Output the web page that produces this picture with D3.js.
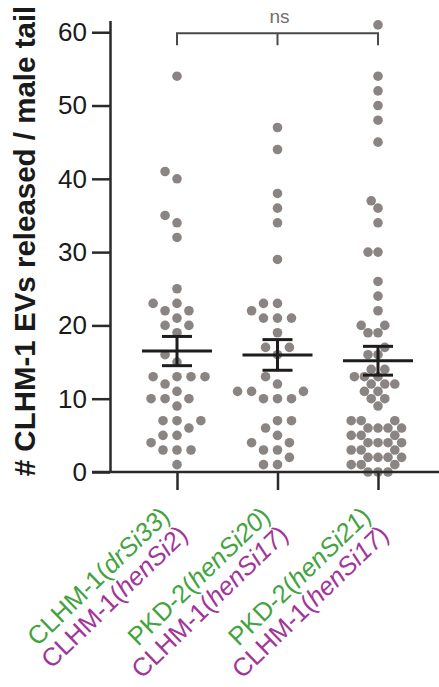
<!DOCTYPE html>
<html>
<head>
<meta charset="utf-8">
<script src="https://cdn.jsdelivr.net/npm/d3@7"></script>
<style>
  body { margin: 0; background: #fff; }
  svg { display: block; font-family: "Liberation Sans", Arial, sans-serif; }
</style>
</head>
<body>
<div id="chart"></div>
<script>
// Groups and their two-line labels (plain part, italic allele, closing bracket)
const groups = ["g1", "g2", "g3"];
const greenLabels = [["CLHM-1(", "drSi33", ")"], ["PKD-2(", "henSi20", ")"], ["PKD-2(", "henSi21", ")"]];
const purpleLabels = [["CLHM-1(", "henSi2", ")"], ["CLHM-1(", "henSi17", ")"], ["CLHM-1(", "henSi17", ")"]];

// EVs released per male tail
const g1Values = [54, 41, 40, 35, 34, 32, 25, 23, 23, 22, 22, 21, 20, 20, 19, 16, 15, 13, 13, 13, 13, 12, 11,
  10, 10, 10, 9, 7, 7, 7, 6, 5, 5, 4, 3, 3, 3, 1];
const g2Values = [47, 44, 38, 36, 34, 29, 23, 23, 22, 21, 21, 21, 19, 17, 17, 16, 13, 12, 11, 11, 11, 10, 10,
  10, 7, 7, 6, 5, 4, 4, 3, 3, 2, 1, 1];
const g3Values = [61, 54, 52, 50, 48, 45, 37, 36, 34, 30, 30, 26, 24, 22, 20, 20, 19, 19, 17, 16, 16, 14, 14,
  13, 13, 13, 12, 12, 12, 11, 11, 10, 10, 9, 7, 7, 7, 6, 6, 6, 6, 5, 5, 5, 4, 4, 4, 4, 3, 3, 3, 2, 2, 2, 2,
  1, 1, 1, 0, 0, 0];
const yTicks = [0, 10, 20, 30, 40, 50, 60];
const yLabel = "# CLHM-1 EVs released / male tail";
const sigLabel = "ns";

const allValues = [g1Values, g2Values, g3Values];

const width = 439, height = 687;
const plotLeft = 110, plotBottom = 472;
const tickLen = 18;
const dotR = 4.8;
const dotColor = "#8a8582";
const green = "#43a340", purple = "#a2359a";
// the crowded third column is packed tighter, dots overlap as in the original
const packing = [14, 14, 10];

const svg = d3.select("#chart").append("svg").attr("width", width).attr("height", height);

const y = d3.scaleLinear().domain([0, 61.6]).range([plotBottom, 20.5]);
const x = d3.scalePoint().domain(groups).range([plotLeft + 67, plotLeft + 268]);

// simple beeswarm: each dot goes as close to the centre as it can without overlapping
const swarm = (values, D) => {
  const placed = [];
  values.slice().sort((a, b) => a - b).forEach((v) => {
    const py = y(v);
    const cands = [0];
    placed.forEach((p) => {
      const dy = Math.abs(p.y - py);
      if (dy < D) {
        const dx = Math.sqrt(D * D - dy * dy);
        cands.push(p.dx + dx, p.dx - dx);
      }
    });
    cands.sort((a, b) => Math.abs(a) - Math.abs(b) || a - b);
    const best = cands.find((c) => placed.every((p) => (p.dx - c) ** 2 + (p.y - py) ** 2 >= D * D - 0.01));
    placed.push({ v, dx: best, y: py });
  });
  return placed;
};

// dots
groups.forEach((g, i) => {
  svg.append("g")
    .selectAll("circle")
    .data(swarm(allValues[i], packing[i]))
    .join("circle")
    .attr("cx", (d) => x(g) + d.dx)
    .attr("cy", (d) => d.y)
    .attr("r", dotR)
    .attr("fill", dotColor);
});

// mean and SEM
const stats = allValues.map((vals) => ({
  mean: d3.mean(vals),
  sem: d3.deviation(vals) / Math.sqrt(vals.length),
}));
const errG = svg.append("g").attr("stroke", "#1d1d1d").attr("stroke-width", 3);
groups.forEach((g, i) => {
  const { mean, sem } = stats[i];
  const cx = x(g);
  errG.append("line").attr("x1", cx - 35).attr("x2", cx + 35).attr("y1", y(mean)).attr("y2", y(mean));
  errG.append("line").attr("x1", cx).attr("x2", cx).attr("y1", y(mean + sem)).attr("y2", y(mean - sem));
  [mean + sem, mean - sem].forEach((v) =>
    errG.append("line").attr("x1", cx - 15).attr("x2", cx + 15).attr("y1", y(v)).attr("y2", y(v)));
});

// y axis
const yAxis = svg.append("g")
  .attr("transform", `translate(${plotLeft},0)`)
  .call(d3.axisLeft(y).tickValues(yTicks).tickSize(tickLen).tickSizeOuter(0).tickPadding(5));
yAxis.select(".domain").attr("stroke", "#2a2a2a").attr("stroke-width", 2.5);
yAxis.selectAll(".tick line").attr("stroke", "#2a2a2a").attr("stroke-width", 2.5);
yAxis.selectAll(".tick text").attr("font-size", 26).attr("fill", "#1a1a1a").attr("font-family", "Liberation Sans, Arial, sans-serif");

// x axis
const xAxis = svg.append("g")
  .attr("transform", `translate(0,${plotBottom})`)
  .call(d3.axisBottom(x).tickSize(tickLen).tickFormat(""));
xAxis.select(".domain").remove();
xAxis.selectAll(".tick line").attr("stroke", "#2a2a2a").attr("stroke-width", 2.5);
xAxis.append("line")
  .attr("x1", plotLeft - tickLen).attr("x2", width)
  .attr("stroke", "#2a2a2a").attr("stroke-width", 2.5);

// rotated two-line category labels
const labelG = svg.append("g");
groups.forEach((g, i) => {
  const lg = labelG.append("g")
    .attr("transform", `translate(${x(g) - 6},${plotBottom + 46}) rotate(-44)`)
    .attr("font-size", 25.5)
    .attr("text-anchor", "end");
  [[greenLabels[i], green, 0], [purpleLabels[i], purple, 26]].forEach(([parts, col, dy]) => {
    const t = lg.append("text").attr("y", dy).attr("fill", col);
    t.append("tspan").text(parts[0]);
    t.append("tspan").attr("font-style", "italic").text(parts[1]);
    t.append("tspan").text(parts[2]);
  });
});

// y axis title
svg.append("text")
  .attr("transform", `translate(35,241) rotate(-90)`)
  .attr("text-anchor", "middle")
  .attr("font-size", 29.5)
  .attr("font-weight", "bold")
  .attr("fill", "#1a1a1a")
  .text(yLabel);

// significance bracket
const bY = y(60) + 1;
const bracket = svg.append("g").attr("stroke", "#4a4a4a").attr("stroke-width", 2).attr("fill", "none");
bracket.append("path")
  .attr("d", `M${x("g1")},${bY + 12}V${bY}H${x("g3")}V${bY + 12}`);
const midX = (x("g1") + x("g3")) / 2;
bracket.append("line").attr("x1", midX).attr("x2", midX).attr("y1", bY).attr("y2", bY + 12);
svg.append("text")
  .attr("x", midX + 2).attr("y", bY - 10)
  .attr("text-anchor", "middle")
  .attr("font-size", 19)
  .attr("fill", "#6f6f6f")
  .text(sigLabel);
</script>
</body>
</html>
